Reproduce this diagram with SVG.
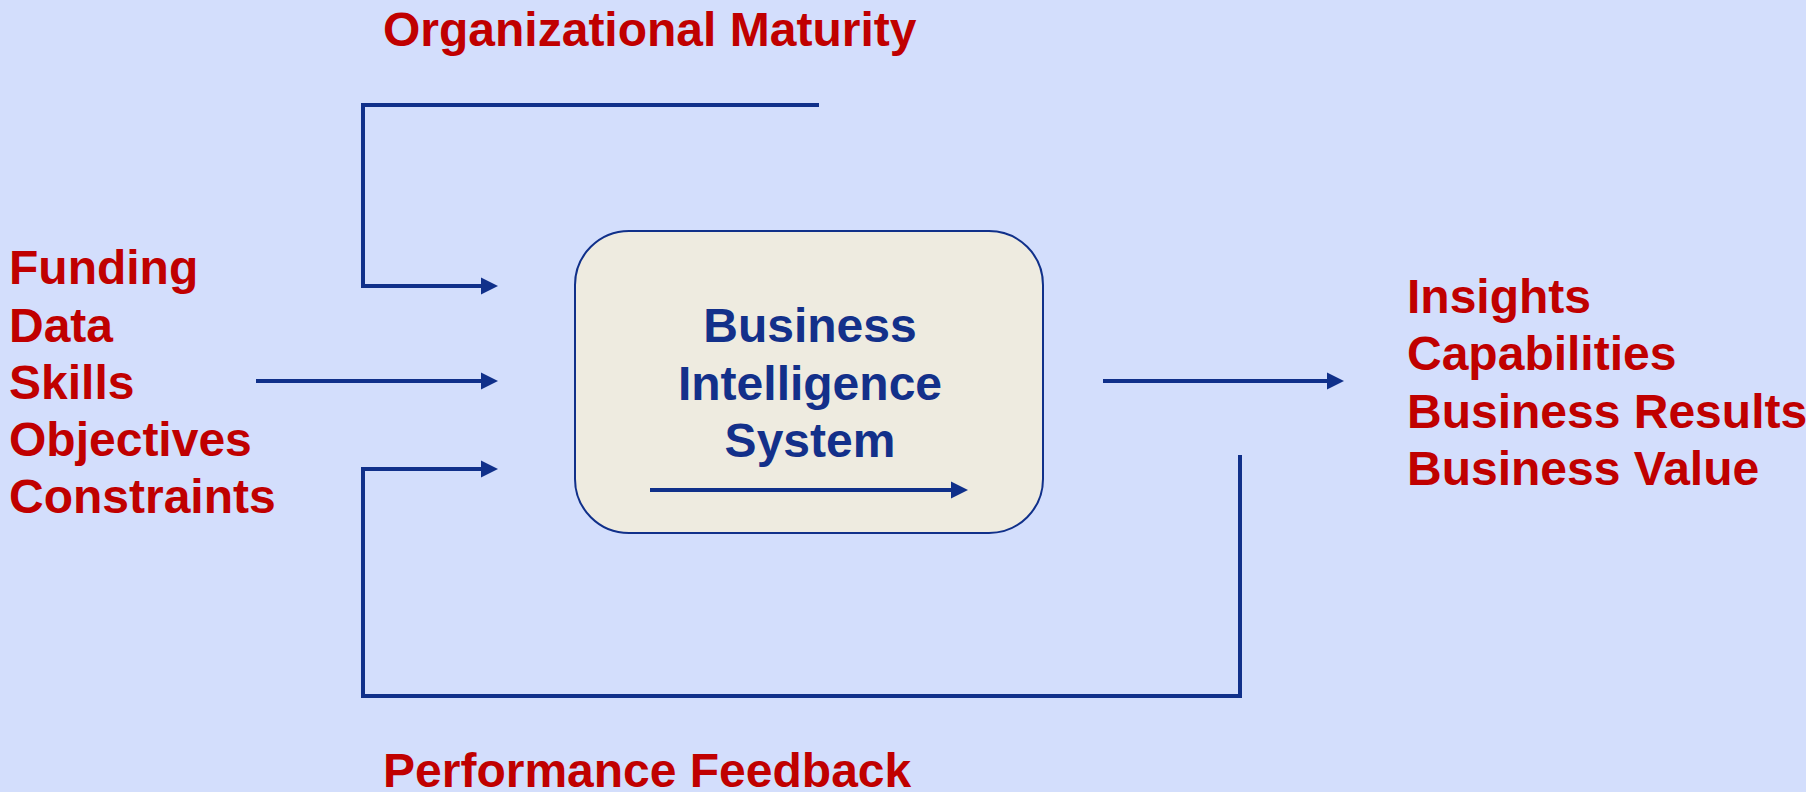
<svg xmlns="http://www.w3.org/2000/svg" width="1806" height="792" viewBox="0 0 1806 792">
  <style>
    .lbl { font-family: "Liberation Sans", Arial, sans-serif; font-weight: bold; font-size: 48px; fill: #C00000; }
    .node-text { font-family: "Liberation Sans", Arial, sans-serif; font-weight: bold; font-size: 48px; fill: #13308A; text-anchor: middle; }
    .conn { fill: none; stroke: #10308A; stroke-width: 4; stroke-linejoin: miter; stroke-linecap: butt; }
  </style>
  <defs>
    <marker id="arrow" markerUnits="userSpaceOnUse" markerWidth="18" markerHeight="18" viewBox="0 0 18 18" refX="7" refY="9" orient="auto">
      <path d="M0,0.5 L17,9 L0,17.5 Z" fill="#10308A"/>
    </marker>
  </defs>
  <rect x="0" y="0" width="1806" height="792" fill="#D3DEFC"/>

  <g id="labels">
    <text class="lbl" x="383" y="46">Organizational Maturity</text>
    <text class="lbl" x="383" y="787">Performance Feedback</text>
    <g id="inputs">
      <text class="lbl" x="9" y="284">Funding</text>
      <text class="lbl" x="9" y="342">Data</text>
      <text class="lbl" x="9" y="399">Skills</text>
      <text class="lbl" x="9" y="456">Objectives</text>
      <text class="lbl" x="9" y="513">Constraints</text>
    </g>
    <g id="outputs">
      <text class="lbl" x="1407" y="313">Insights</text>
      <text class="lbl" x="1407" y="370">Capabilities</text>
      <text class="lbl" x="1407" y="428">Business Results</text>
      <text class="lbl" x="1407" y="485">Business Value</text>
    </g>
  </g>

  <g id="bi-system">
    <rect x="575" y="231" width="468" height="302" rx="54" ry="54" fill="#EEEBE0" stroke="#10308A" stroke-width="2"/>
    <text class="node-text" x="810" y="342">Business</text>
    <text class="node-text" x="810" y="400">Intelligence</text>
    <text class="node-text" x="810" y="457">System</text>
    <path class="conn" d="M650,490 L958,490" marker-end="url(#arrow)"/>
  </g>

  <g id="connectors">
    <path class="conn" d="M819,105 L363,105 L363,286 L488,286" marker-end="url(#arrow)"/>
    <path class="conn" d="M256,381 L488,381" marker-end="url(#arrow)"/>
    <path class="conn" d="M1240,455 L1240,696 L363,696 L363,469 L488,469" marker-end="url(#arrow)"/>
    <path class="conn" d="M1103,381 L1334,381" marker-end="url(#arrow)"/>
  </g>
</svg>
